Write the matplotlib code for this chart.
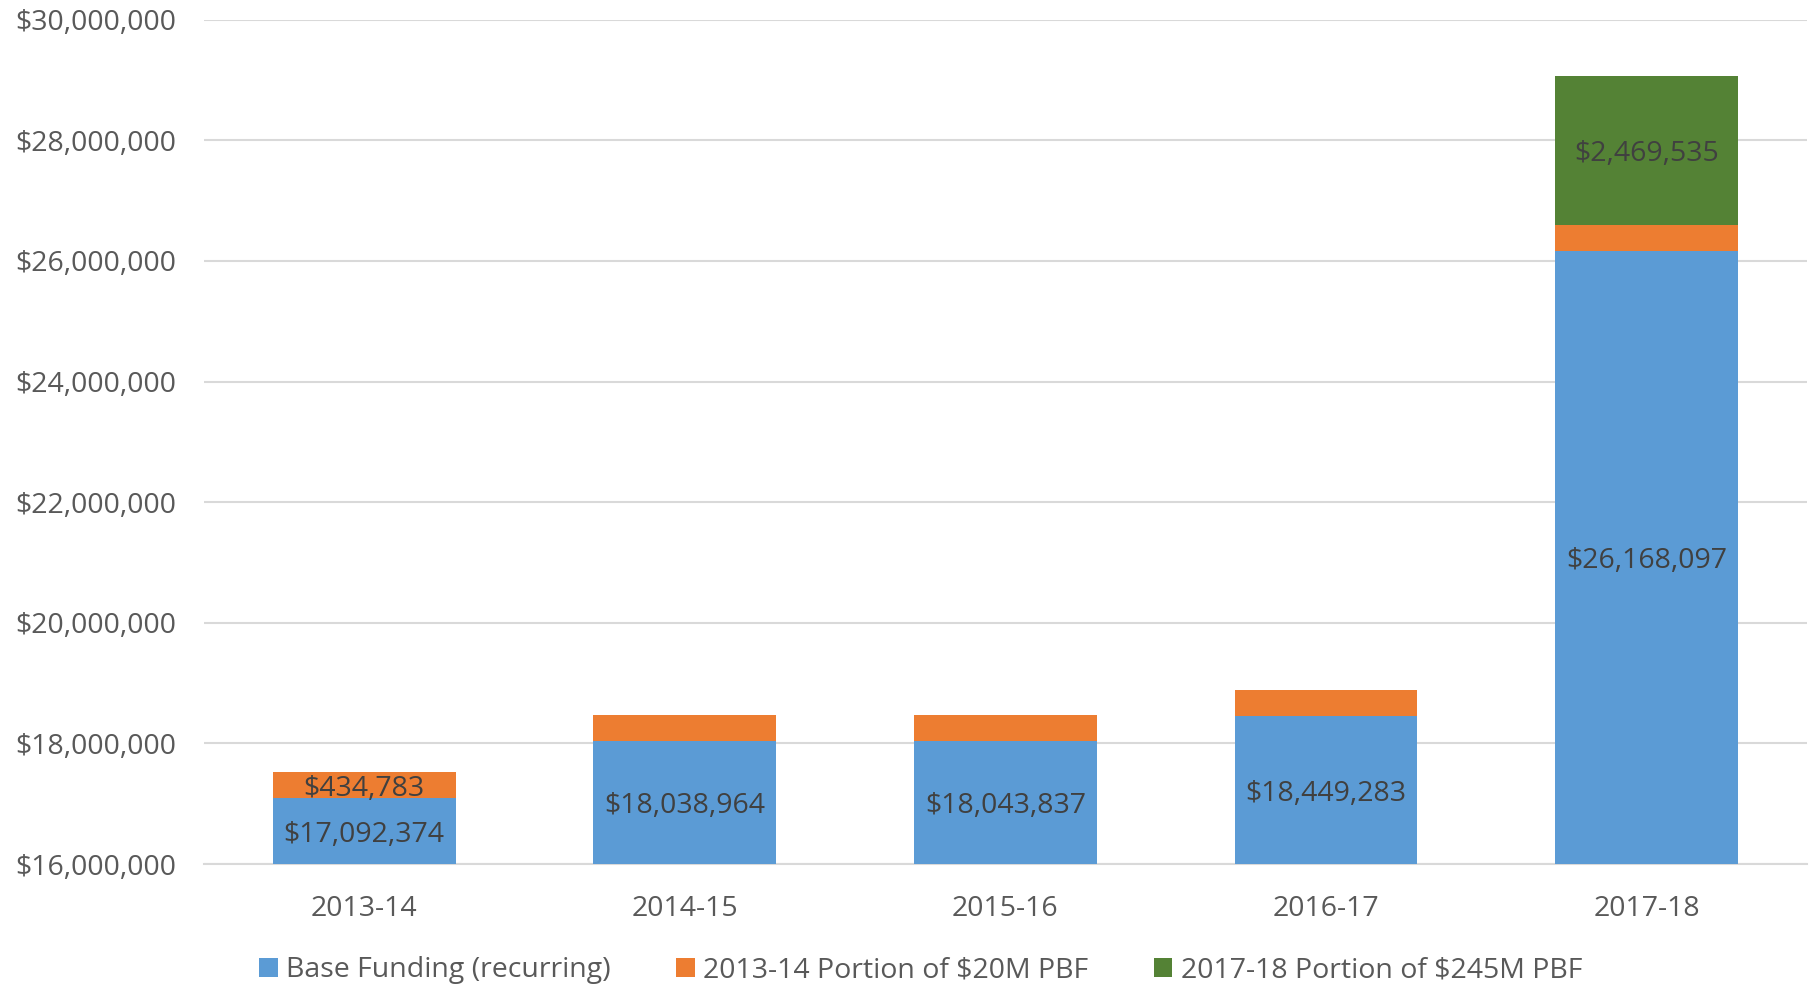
import matplotlib
matplotlib.use('Agg')
import matplotlib.pyplot as plt
from matplotlib.ticker import FuncFormatter

years = ['2013-14', '2014-15', '2015-16', '2016-17', '2017-18']
base_funding = [17092374, 18038964, 18043837, 18449283, 26168097]
pbf_20m = [434783, 434783, 434783, 434783, 434783]
pbf_245m = [0, 0, 0, 0, 2469535]
series_names = ['Base Funding (recurring)', '2013-14 Portion of $20M PBF',
                '2017-18 Portion of $245M PBF']

blue, orange, green = '#5b9bd5', '#ed7d31', '#548235'
tick_color = '#595959'
label_color = '#404040'
fs = 20.5

plt.rcParams['font.family'] = ['Open Sans', 'DejaVu Sans']

fig = plt.figure(figsize=(18.16, 9.88), dpi=100)
ax = fig.add_axes([0.1123, 0.1255, 0.8827, 0.8545])

x = range(len(years))
w = 0.57
b1 = ax.bar(x, base_funding, w, color=blue, label=series_names[0], zorder=3)
b2 = ax.bar(x, pbf_20m, w, bottom=base_funding, color=orange, label=series_names[1], zorder=3)
bottom3 = [a + b for a, b in zip(base_funding, pbf_20m)]
b3 = ax.bar(x, pbf_245m, w, bottom=bottom3, color=green, label=series_names[2], zorder=3)

ax.set_ylim(16000000, 30000000)
ax.set_xlim(-0.5, len(years) - 0.5)
ax.set_yticks(range(16000000, 30000001, 2000000))
ax.yaxis.set_major_formatter(FuncFormatter(lambda v, p: '${:,.0f}'.format(v)))
ax.grid(axis='y', color='#d9d9d9', linewidth=1.5, zorder=0)
for s in ['top', 'right', 'left']:
    ax.spines[s].set_visible(False)
ax.spines['bottom'].set_color('#d9d9d9')
ax.spines['bottom'].set_linewidth(1.5)
ax.tick_params(axis='both', length=0, colors=tick_color, labelsize=fs)
ax.tick_params(axis='y', pad=20)
ax.tick_params(axis='x', pad=22)
ax.set_xticks(list(x))
ax.set_xticklabels(years)

# data labels, centered within the visible part of each segment
ymin = 16000000
for i in x:
    ax.text(i, (ymin + base_funding[i]) / 2, '${:,}'.format(base_funding[i]), ha='center',
            va='center_baseline', fontsize=fs, color=label_color, zorder=4)
ax.text(0, base_funding[0] + pbf_20m[0] / 2, '${:,}'.format(pbf_20m[0]), ha='center',
        va='center_baseline', fontsize=fs, color=label_color, zorder=4)
ax.text(4, bottom3[4] + pbf_245m[4] / 2, '${:,}'.format(pbf_245m[4]), ha='center',
        va='center_baseline', fontsize=fs, color=label_color, zorder=4)

fig.legend(handles=[b1, b2, b3], loc='center', bbox_to_anchor=(0.507, 0.018), ncol=3,
           frameon=False, fontsize=fs, labelcolor=tick_color, handlelength=0.65,
           handleheight=0.65, handletextpad=0.3, columnspacing=2.3)

fig.savefig('out.png', dpi=100)
